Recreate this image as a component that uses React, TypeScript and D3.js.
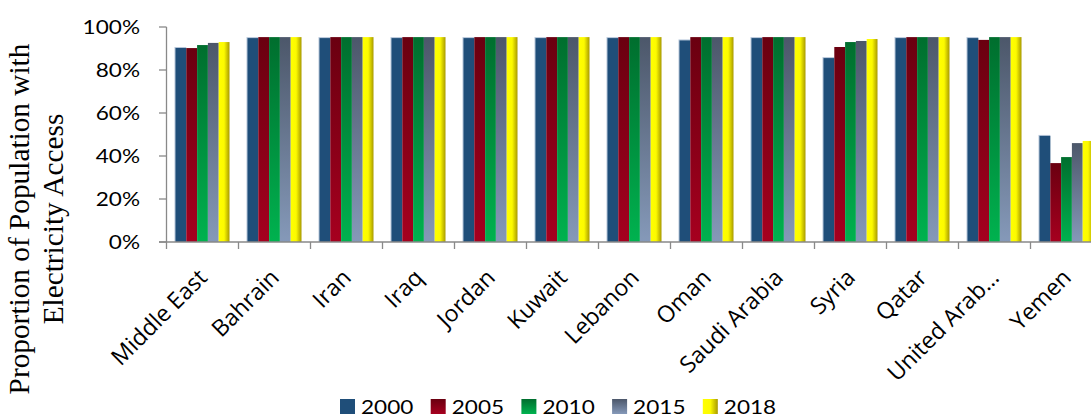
import React from "react";
import * as d3 from "d3";

const categories = ["Middle East", "Bahrain", "Iran", "Iraq", "Jordan", "Kuwait", "Lebanon", "Oman", "Saudi Arabia", "Syria", "Qatar", "United Arab…", "Yemen"];
const years = ["2000", "2005", "2010", "2015", "2018"];
const v2000 = [90.7, 95.3, 95.3, 95.3, 95.3, 95.3, 95.3, 94.2, 95.3, 86.0, 95.3, 95.3, 49.8];
const v2005 = [90.2, 95.3, 95.3, 95.3, 95.3, 95.3, 95.3, 95.3, 95.3, 90.7, 95.3, 94.0, 36.7];
const v2010 = [91.6, 95.3, 95.3, 95.3, 95.3, 95.3, 95.3, 95.3, 95.3, 93.0, 95.3, 95.3, 39.5];
const v2015 = [92.6, 95.3, 95.3, 95.3, 95.3, 95.3, 95.3, 95.3, 95.3, 93.5, 95.3, 95.3, 46.0];
const v2018 = [93.0, 95.3, 95.3, 95.3, 95.3, 95.3, 95.3, 95.3, 95.3, 94.4, 95.3, 95.3, 47.0];
const series = [v2000, v2005, v2010, v2015, v2018];
const yTicks = [0, 20, 40, 60, 80, 100];
const titleLines = ["Proportion of Population with", "Electricity Access"];

const fills = ["#1F4E79", "url(#gRed)", "url(#gGreen)", "url(#gGrey)", "url(#gYellow)"];
const SX = 1.13;
const FONT = "Lato, 'Open Sans', sans-serif";
const LABEL_FONT = "'Open Sans', Lato, sans-serif";

export default function App() {
  const W = 1091, H = 416;
  const x0 = d3.scaleBand<string>().domain(categories).range([166.5, 1102.5]).paddingInner(0.25).paddingOuter(0.125);
  const x1 = d3.scaleBand<string>().domain(years).range([0, x0.bandwidth()]);
  const y = d3.scaleLinear().domain([0, 100]).range([242, 27]);
  const bounds = categories.map((c) => (x0(c) as number) - x0.step() * 0.125);
  bounds.push(1102.5);
  const axisColor = "#898989";

  return (
    <svg width={W} height={H} style={{ position: "absolute", left: 0, top: 0, display: "block" }}>
      <defs>
        <linearGradient id="gRed" x1="0" y1="0" x2="0" y2="1">
          <stop offset="0" stopColor="#6a0010" />
          <stop offset="1" stopColor="#a6001f" />
        </linearGradient>
        <linearGradient id="gGreen" x1="0" y1="0" x2="0" y2="1">
          <stop offset="0" stopColor="#006e2e" />
          <stop offset="1" stopColor="#00b24f" />
        </linearGradient>
        <linearGradient id="gGrey" x1="0" y1="0" x2="0" y2="1">
          <stop offset="0" stopColor="#4c576a" />
          <stop offset="1" stopColor="#8599b9" />
        </linearGradient>
        <linearGradient id="gYellow" x1="0" y1="0" x2="1" y2="0">
          <stop offset="0" stopColor="#ffff00" />
          <stop offset="0.5" stopColor="#fcfa00" />
          <stop offset="1" stopColor="#a89a00" />
        </linearGradient>
      </defs>

      {/* y axis title */}
      {titleLines.map((t, i) => (
        <text key={t} transform={`translate(${28.5 + i * 34},219) rotate(-90)`} textAnchor="middle"
          fontFamily="'Liberation Serif', 'Times New Roman', serif" fontSize={29.3} fill="#000">{t}</text>
      ))}

      {/* y ticks */}
      {yTicks.map((t) => (
        <g key={t}>
          <line x1={159} x2={166.5} y1={y(t)} y2={y(t)} stroke={axisColor} strokeWidth={1.3} />
          <text transform={`translate(140,${y(t)}) scale(${SX},1)`} textAnchor="end" dominantBaseline="central"
            fontFamily={FONT} fontSize={20} fill="#000">{t}%</text>
        </g>
      ))}

      {/* bars */}
      {categories.map((c, ci) => (
        <g key={c} transform={`translate(${x0(c)},0)`}>
          {years.map((yr, si) => {
            const v = series[si][ci];
            const bx = x1(yr) as number;
            const bw = x1.bandwidth();
            const top = y(v);
            if (si === 0) {
              return (
                <g key={yr}>
                  <rect x={bx - 1} y={top} width={bw + 1} height={242 - top} fill="#b5c5d9" />
                  <rect x={bx} y={top + 1} width={bw} height={242 - top - 1} fill={fills[si]} />
                </g>
              );
            }
            return <rect key={yr} x={bx} y={top} width={bw} height={242 - top} fill={fills[si]} />;
          })}
        </g>
      ))}

      {/* axes */}
      <line x1={166.5} x2={166.5} y1={y(100)} y2={242} stroke={axisColor} strokeWidth={1.3} />
      <line x1={159} x2={W} y1={242} y2={242} stroke={axisColor} strokeWidth={1.3} />
      {bounds.map((b, i) => (
        <line key={i} x1={b} x2={b} y1={242} y2={249} stroke={axisColor} strokeWidth={1.3} />
      ))}

      {/* category labels */}
      {categories.map((c) => {
        const cx = (x0(c) as number) + x0.bandwidth() / 2 + 6;
        return (
          <text key={c} transform={`translate(${cx},279) rotate(-45)`} textAnchor="end"
            fontFamily={LABEL_FONT} fontSize={23} fill="#000">{c}</text>
        );
      })}

      {/* legend */}
      {years.map((yr, i) => {
        const lx = 340 + i * 90.7;
        return (
          <g key={yr}>
            <rect x={lx} y={399} width={15} height={15} fill={fills[i]} />
            <text transform={`translate(${lx + 21},413.5) scale(${SX},1)`} fontFamily={FONT} fontSize={20} fill="#000">{yr}</text>
          </g>
        );
      })}
    </svg>
  );
}
